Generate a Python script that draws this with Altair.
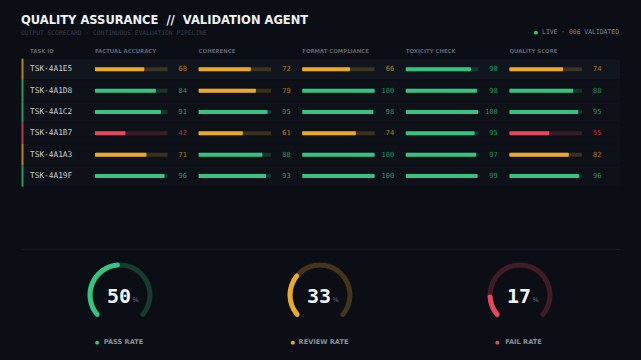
import altair as alt
import pandas as pd

# ---------------- data ----------------
tasks = ["TSK-4A1E5", "TSK-4A1D8", "TSK-4A1C2", "TSK-4A1B7", "TSK-4A1A3", "TSK-4A19F"]
metric_names = ["FACTUAL ACCURACY", "COHERENCE", "FORMAT COMPLIANCE", "TOXICITY CHECK", "QUALITY SCORE"]
factual = [68, 84, 91, 42, 71, 96]
coherence = [72, 79, 95, 61, 88, 93]
format_compliance = [66, 100, 98, 74, 100, 100]
toxicity = [90, 98, 100, 95, 97, 99]
quality = [74, 88, 95, 55, 82, 96]
metric_values = [factual, coherence, format_compliance, toxicity, quality]

statuses = ["pass", "review", "fail"]
gauge_labels = ["PASS RATE", "REVIEW RATE", "FAIL RATE"]

title_text = "QUALITY ASSURANCE \u00a0//\u00a0 VALIDATION AGENT"
subtitle_text = "OUTPUT SCORECARD \u00b7 CONTINUOUS EVALUATION PIPELINE"
live_text = f"LIVE \u00b7 {len(tasks):03d} VALIDATED"

# ---------------- styles ----------------
BG = "#0b0e14"
GREEN = "#36c27f"
YELLOW = "#e9aa2b"
RED = "#e5485a"
SANS = "DejaVu Sans"
MONO = "DejaVu Sans Mono"


def status_of(v, metric):
    pass_cut = 85 if metric == "QUALITY SCORE" else 80
    if v >= pass_cut:
        return "pass"
    if v >= 60:
        return "review"
    return "fail"


long_rows = []
for m, vals in zip(metric_names, metric_values):
    for t, v in zip(tasks, vals):
        long_rows.append({"task": t, "metric": m, "value": v, "status": status_of(v, m)})
long_df = pd.DataFrame(long_rows)

row_status = [status_of(v, "QUALITY SCORE") for v in quality]
rows_df = pd.DataFrame({"task": tasks, "status": row_status})

gauge_rates = [round(100 * row_status.count(s) / len(row_status)) for s in statuses]
gauge_df = pd.DataFrame({"gauge": gauge_labels, "status": statuses, "rate": gauge_rates})

# ---------------- shared encodings ----------------
Y = alt.Y("task:N", scale=alt.Scale(type="band", domain=tasks, range=[58.6, 186.7],
                                    paddingInner=0, paddingOuter=0), axis=None)
C = alt.Color("status:N", scale=alt.Scale(domain=statuses, range=[GREEN, YELLOW, RED]), legend=None)


def label(text, x, y, **kw):
    return alt.Chart(pd.DataFrame({"t": [text]})).mark_text(**kw).encode(
        x=alt.value(x), y=alt.value(y), text="t:N")


title = label(title_text, 21, 24.3, align="left", baseline="alphabetic", font=SANS,
              fontWeight="bold", fontSize=11.5, color="#eef1f5")
subtitle = label(subtitle_text, 21, 33, align="left", baseline="middle", font=MONO,
                 fontSize=6.3, color="#363c48")
live = label(live_text, 619, 32.3, align="right", baseline="middle", font=MONO,
             fontSize=6.4, color="#7b818c")
live_dot = label("\u25cf", 536, 32.3, align="center", baseline="middle", font=SANS,
                 fontSize=5, color=GREEN)
id_header = label("TASK ID", 30, 51, align="left", baseline="middle", font=SANS,
                  fontWeight="bold", fontSize=5.4, color="#5b6270")

row_bg = alt.Chart(rows_df).mark_bar(height=20.3).encode(
    x=alt.value(22), x2=alt.value(620), y=Y,
    color=alt.condition(alt.datum.task == tasks[0], alt.value("#11161e"), alt.value("#0e1218")))

border = alt.Chart(rows_df).mark_rect(opacity=0.75).encode(
    x=alt.value(21.5), x2=alt.value(23.5), y=Y, color=C)

ids = alt.Chart(rows_df).mark_text(align="left", baseline="middle", font=MONO, fontSize=7.8,
                                   color="#c9ced6").encode(x=alt.value(30), y=Y, text="task:N")

separator = alt.Chart(pd.DataFrame({"a": [0]})).mark_rule(color="#161b24", strokeWidth=1).encode(
    x=alt.value(22), x2=alt.value(620), y=alt.value(249.5))

metric_layers = []
for i, m in enumerate(metric_names):
    x0 = 95 + 103.6 * i
    sc = alt.Scale(domain=[0, 100], range=[x0, x0 + 72.5])
    base = alt.Chart(long_df).transform_filter(alt.datum.metric == m).transform_calculate(
        zero="0", full="100")
    track = base.mark_bar(height=4, opacity=0.2, cornerRadius=1).encode(
        x=alt.X("zero:Q", scale=sc, axis=None), x2="full:Q", y=Y, color=C)
    bar = base.mark_bar(height=4, cornerRadius=1).encode(
        x=alt.X("zero:Q", scale=sc, axis=None), x2="value:Q", y=Y, color=C)
    val = base.mark_text(align="right", baseline="middle", dx=19.5, font=MONO, fontSize=7,
                         opacity=0.7).encode(
        x=alt.X("full:Q", scale=sc, axis=None), y=Y, text="value:Q", color=C)
    hdr = alt.Chart(pd.DataFrame({"metric": [m]})).transform_calculate(zero="0").mark_text(
        align="left", baseline="middle", font=SANS, fontWeight="bold", fontSize=5.4,
        color="#5b6270").encode(x=alt.X("zero:Q", scale=sc, axis=None), y=alt.value(51),
                                text="metric:N")
    metric_layers.append(alt.layer(track, bar, val, hdr))

# ---------------- gauges ----------------
GX = alt.X("gauge:N", scale=alt.Scale(type="point", domain=gauge_labels, range=[120, 520],
                                      padding=0), axis=None)
TH = alt.Scale(domain=[0, 100], range=[-2.35619, 2.35619])
gbase = alt.Chart(gauge_df).transform_calculate(zero="0", full="100")

g_track = gbase.mark_arc(radius=32.5, radius2=27.5, cornerRadius=2.5, opacity=0.25).encode(
    x=GX, y=alt.value(295), theta=alt.Theta("zero:Q", scale=TH, stack=None), theta2="full:Q",
    color=C)
g_fill = gbase.mark_arc(radius=32.5, radius2=27.5, cornerRadius=2.5).encode(
    x=GX, y=alt.value(295), theta=alt.Theta("zero:Q", scale=TH, stack=None), theta2="rate:Q",
    color=C)
g_num = gbase.mark_text(font=MONO, fontSize=20, fontWeight="bold", color="#f2f4f7",
                        baseline="alphabetic", align="center", dx=-1).encode(
    x=GX, y=alt.value(302.5), text="rate:Q")
g_pct = gbase.mark_text(text="%", font=SANS, fontSize=6.5, color="#6b7280",
                        baseline="alphabetic", align="left", dx=12.5).encode(
    x=GX, y=alt.value(302))
g_lab = gbase.mark_text(font=SANS, fontWeight="bold", fontSize=6.6, color="#8a909c",
                        baseline="middle", align="center", dx=3.5).encode(
    x=GX, y=alt.value(341.5), text="gauge:N")
g_dot = gbase.mark_text(text="\u25cf", font=SANS, fontSize=5, baseline="middle", align="center",
                        dx=alt.expr("3.5 - length(datum.gauge) * 2.3 - 5.5")).encode(
    x=GX, y=alt.value(341.5), color=C)
gauge_layer = alt.layer(g_track, g_fill, g_num, g_pct, g_lab, g_dot)

chart = alt.layer(
    row_bg, border, ids, id_header, title, subtitle, live, live_dot, separator,
    *metric_layers, gauge_layer
).resolve_scale(x="independent").properties(
    width=641, height=360, background=BG, padding=0,
    autosize=alt.AutoSizeParams(type="none")
).configure_view(stroke=None)

chart.save("out.html", embed_options={"renderer": "svg", "actions": False})
